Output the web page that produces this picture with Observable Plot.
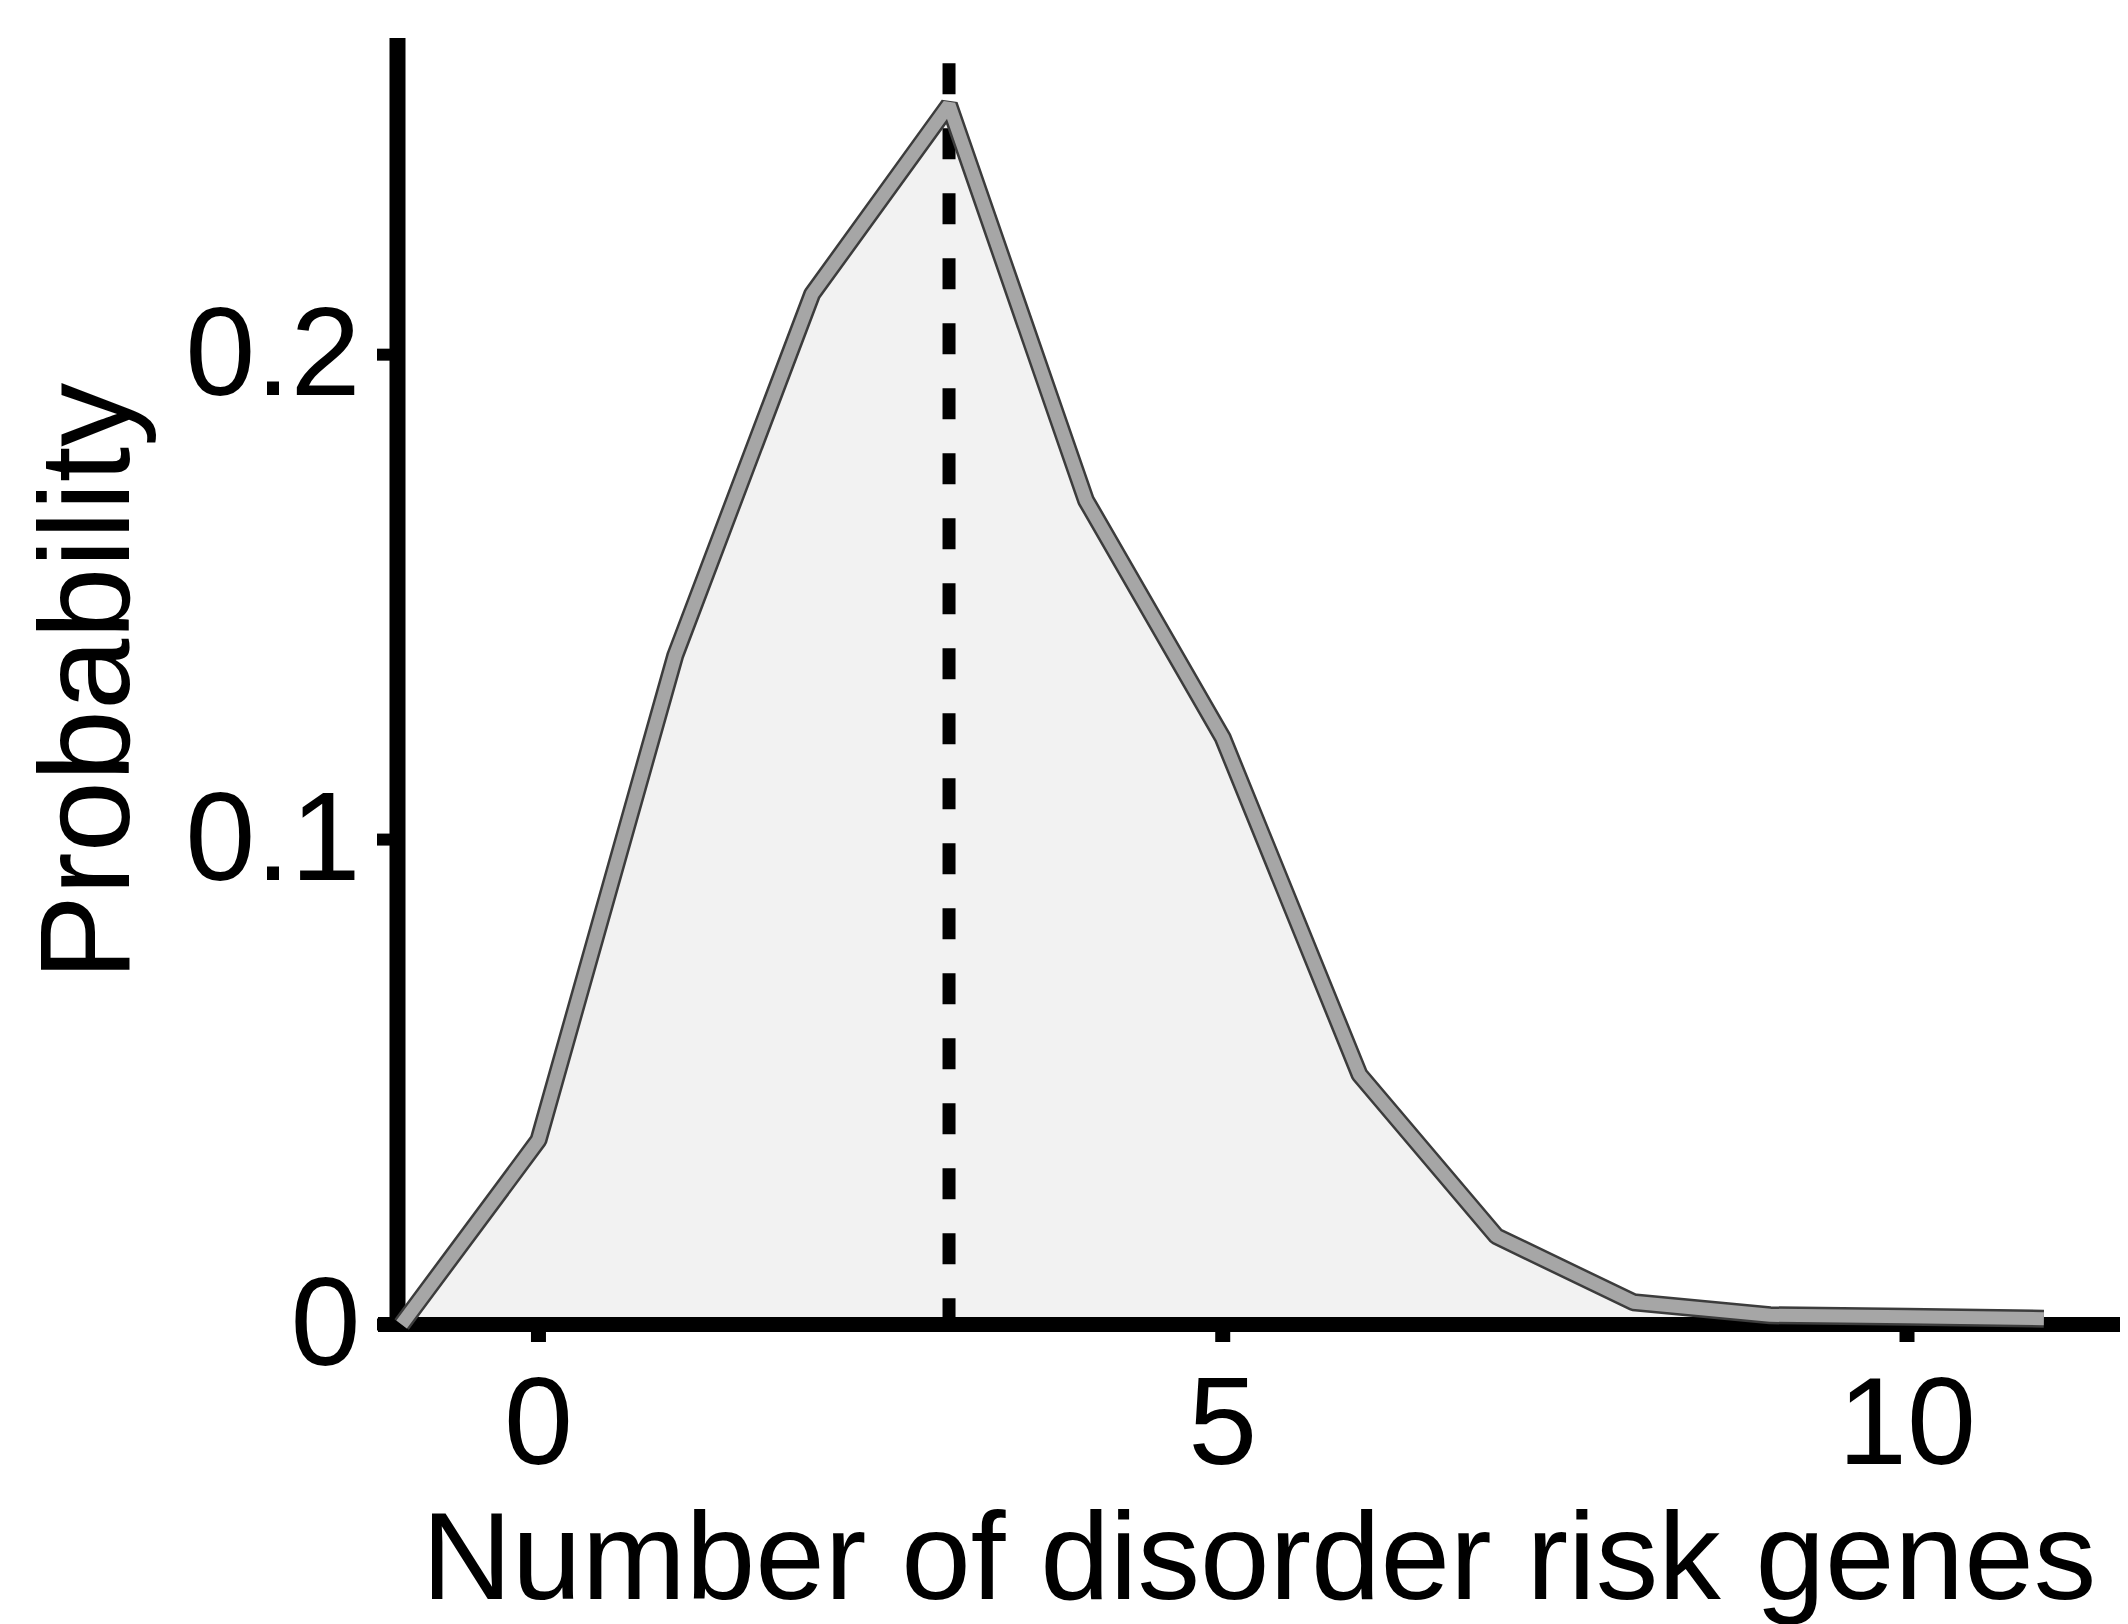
<!DOCTYPE html>
<html>
<head>
<meta charset="utf-8">
<script src="https://cdn.jsdelivr.net/npm/d3@7"></script>
<script src="https://cdn.jsdelivr.net/npm/@observablehq/plot@0.6"></script>
<style>
  html, body { margin: 0; padding: 0; background: #ffffff; }
  #chart { width: 2128px; height: 1624px; }
</style>
</head>
<body>
<div id="chart"></div>
<script>
// Data
const genes = [-1, 0, 1, 2, 3, 4, 5, 6, 7, 8, 9, 10, 11];
const probability = [0, 0.038, 0.138, 0.2125, 0.2515, 0.170, 0.121, 0.0515, 0.0182, 0.0046, 0.0019, 0.0016, 0.0012];
const meanGenes = [3];
const meanTop = 0.26;
const xTicks = [0, 5, 10];
const xTickLabels = ["0", "5", "10"];
const yTicks = [0, 0.1, 0.2];
const yTickLabels = ["0", "0.1", "0.2"];
const xLabel = "Number of disorder risk genes";
const yLabel = "Probability";

const data = genes.map((g, i) => ({x: g, y: probability[i]}));
const font = "'Liberation Sans', Arial, Helvetica, sans-serif";
const xDomain = [-1.03, 11.56];
const yDomain = [0, 0.2652];

const chart = Plot.plot({
  width: 2128,
  height: 1624,
  marginLeft: 397,
  marginRight: 8,
  marginTop: 38,
  marginBottom: 300,
  x: {domain: xDomain},
  y: {domain: yDomain},
  style: {fontFamily: font, fontSize: "124px", color: "#000", background: "#fff", overflow: "visible"},
  marks: [
    Plot.areaY(data, {x: "x", y: "y", fill: "#f2f2f2"}),
    Plot.axisX(xTicks, {
      tickSize: 18, tickPadding: 33, strokeWidth: 15, stroke: "#000",
      tickFormat: d => xTickLabels[xTicks.indexOf(d)], fontSize: 124, label: null
    }),
    Plot.axisY(yTicks, {
      tickSize: 20, tickPadding: 17, strokeWidth: 12, stroke: "#000",
      tickFormat: d => yTickLabels[yTicks.indexOf(d)], fontSize: 126, label: null
    }),
    Plot.ruleX([xDomain[0]], {y1: 0, y2: yDomain[1], stroke: "#000", strokeWidth: 16}),
    Plot.ruleY([0], {stroke: "#000", strokeWidth: 15, insetLeft: -19}),
    Plot.ruleX(meanGenes, {y1: meanTop, y2: 0, stroke: "#000", strokeWidth: 13, strokeDasharray: "31,34"}),
    Plot.line(data, {x: "x", y: "y", stroke: "#3c3c3c", strokeWidth: 18, strokeLinejoin: "miter", strokeLinecap: "butt"}),
    Plot.line(data, {x: "x", y: "y", stroke: "#a6a6a6", strokeWidth: 13, strokeLinejoin: "miter", strokeLinecap: "butt"}),
    Plot.text([xLabel], {text: d => d, frameAnchor: "bottom", textAnchor: "middle", lineAnchor: "middle", dy: 234, fontSize: 125, fill: "#000"}),
    Plot.text([yLabel], {text: d => d, frameAnchor: "left", textAnchor: "middle", lineAnchor: "middle", rotate: -90, dx: -309, fontSize: 128, fill: "#000"})
  ]
});
document.getElementById("chart").appendChild(chart);
</script>
</body>
</html>
